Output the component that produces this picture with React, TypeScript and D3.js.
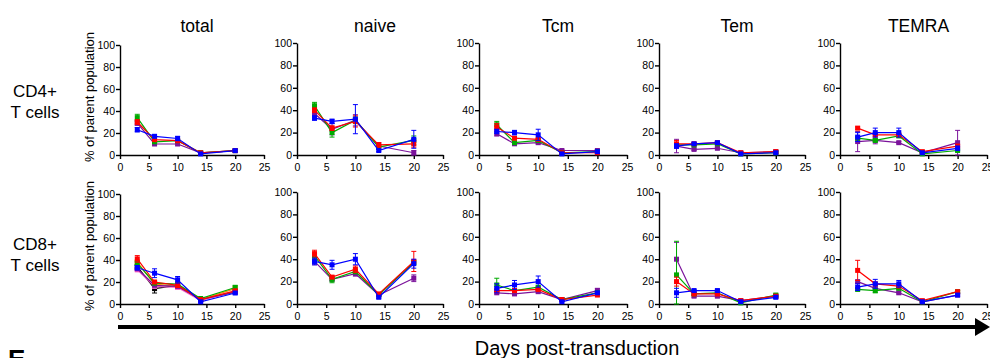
import { useEffect, useRef } from 'react';
import * as d3 from 'd3';

interface SeriesData {
  key: string;
  mean: number[];
  sd: number[];
}

// time points (days post-transduction)
const days = [3, 6, 10, 14, 20];
const xTicks = [0, 5, 10, 15, 20, 25];
const yTicks = [0, 20, 40, 60, 80, 100];
const subsets = ['total', 'naive', 'Tcm', 'Tem', 'TEMRA'];
const rowLabels = [
  ['CD4+', 'T cells'],
  ['CD8+', 'T cells'],
];

const seriesColors: Record<string, string> = {
  black: '#000000',
  orange: '#ff8a00',
  pink: '#ff66cc',
  purple: '#7b139b',
  green: '#00aa00',
  red: '#ff0000',
  blue: '#0000ff',
};

// CD4+ T cells
const cd4Total: SeriesData[] = [
  { key: 'purple', mean: [29, 10, 10, 2, 4], sd: [2, 1, 1, 1, 1] },
  { key: 'green', mean: [34, 12, 13, 2, 4], sd: [3, 1, 1, 1, 1] },
  { key: 'red', mean: [30, 14, 13, 2, 4], sd: [2, 1, 1, 1, 1] },
  { key: 'blue', mean: [23, 17, 15, 1, 4], sd: [2, 1, 2, 1, 1] },
];
const cd4Naive: SeriesData[] = [
  { key: 'purple', mean: [37, 23, 31, 8, 2], sd: [2, 5, 5, 3, 2] },
  { key: 'green', mean: [44, 20, 31, 7, 13], sd: [3, 4, 3, 2, 4] },
  { key: 'red', mean: [40, 24, 30, 9, 10], sd: [2, 2, 5, 2, 3] },
  { key: 'blue', mean: [33, 30, 32, 4, 14], sd: [2, 2, 13, 1, 8] },
];
const cd4Tcm: SeriesData[] = [
  { key: 'purple', mean: [19, 10, 11, 4, 4], sd: [2, 1, 1, 1, 1] },
  { key: 'green', mean: [27, 11, 13, 2, 3], sd: [3, 1, 1, 1, 1] },
  { key: 'red', mean: [25, 15, 14, 2, 2], sd: [3, 1, 1, 1, 1] },
  { key: 'blue', mean: [21, 20, 18, 1, 3], sd: [2, 2, 5, 1, 1] },
];
const cd4Tem: SeriesData[] = [
  { key: 'purple', mean: [8, 5, 6, 2, 3], sd: [6, 1, 1, 1, 1] },
  { key: 'green', mean: [9, 9, 10, 1, 2], sd: [1, 1, 1, 1, 1] },
  { key: 'red', mean: [10, 10, 11, 2, 3], sd: [3, 1, 1, 1, 1] },
  { key: 'blue', mean: [8, 10, 11, 1, 2], sd: [2, 1, 1, 1, 1] },
];
const cd4Temra: SeriesData[] = [
  { key: 'purple', mean: [12, 13, 11, 2, 11], sd: [9, 3, 1, 1, 11] },
  { key: 'green', mean: [15, 13, 17, 1, 4], sd: [1, 1, 1, 1, 1] },
  { key: 'red', mean: [24, 18, 18, 3, 8], sd: [1, 1, 1, 1, 1] },
  { key: 'blue', mean: [16, 20, 20, 2, 6], sd: [4, 4, 4, 1, 2] },
];

// CD8+ T cells
const cd8Total: SeriesData[] = [
  { key: 'black', mean: [34, 14, 17, 4, 11], sd: [2, 4, 1, 1, 1] },
  { key: 'orange', mean: [38, 18, 16, 4, 14], sd: [2, 1, 2, 1, 2] },
  { key: 'pink', mean: [31, 16, 15, 3, 12], sd: [1, 1, 1, 1, 1] },
  { key: 'purple', mean: [32, 17, 16, 4, 11], sd: [1, 1, 1, 1, 1] },
  { key: 'green', mean: [37, 19, 18, 5, 15], sd: [2, 1, 1, 1, 2] },
  { key: 'red', mean: [41, 20, 17, 4, 12], sd: [3, 1, 2, 1, 1] },
  { key: 'blue', mean: [33, 28, 22, 2, 10], sd: [2, 4, 3, 1, 1] },
];
const cd8Naive: SeriesData[] = [
  { key: 'purple', mean: [38, 22, 27, 8, 23], sd: [3, 1, 2, 1, 3] },
  { key: 'green', mean: [43, 22, 29, 8, 37], sd: [2, 3, 2, 1, 2] },
  { key: 'red', mean: [45, 24, 31, 9, 38], sd: [3, 1, 3, 1, 9] },
  { key: 'blue', mean: [38, 35, 40, 6, 36], sd: [3, 4, 5, 1, 4] },
];
const cd8Tcm: SeriesData[] = [
  { key: 'purple', mean: [10, 9, 11, 4, 12], sd: [1, 1, 1, 1, 2] },
  { key: 'green', mean: [17, 12, 15, 4, 10], sd: [6, 1, 1, 1, 1] },
  { key: 'red', mean: [12, 12, 13, 4, 8], sd: [1, 1, 1, 1, 1] },
  { key: 'blue', mean: [14, 17, 20, 2, 10], sd: [4, 4, 5, 1, 1] },
];
const cd8Tem: SeriesData[] = [
  { key: 'purple', mean: [40, 7, 7, 3, 7], sd: [15, 1, 1, 1, 1] },
  { key: 'green', mean: [26, 9, 10, 1, 8], sd: [30, 1, 1, 1, 1] },
  { key: 'red', mean: [20, 9, 9, 3, 7], sd: [4, 1, 1, 1, 1] },
  { key: 'blue', mean: [10, 12, 12, 2, 6], sd: [4, 1, 1, 1, 1] },
];
const cd8Temra: SeriesData[] = [
  { key: 'purple', mean: [20, 14, 10, 2, 8], sd: [1, 1, 1, 1, 1] },
  { key: 'green', mean: [13, 12, 14, 2, 11], sd: [1, 2, 1, 1, 1] },
  { key: 'red', mean: [30, 18, 16, 3, 11], sd: [9, 1, 1, 1, 1] },
  { key: 'blue', mean: [15, 18, 18, 2, 8], sd: [3, 4, 3, 1, 1] },
];

const panels = [
  [cd4Total, cd4Naive, cd4Tcm, cd4Tem, cd4Temra],
  [cd8Total, cd8Naive, cd8Tcm, cd8Tem, cd8Temra],
];

const FONT = "Arial, 'Liberation Sans', sans-serif";

export default function App() {
  const svgRef = useRef<SVGSVGElement>(null);
  const width = 990;
  const height = 358;

  useEffect(() => {
    if (!svgRef.current) return;
    const svg = d3.select(svgRef.current);
    svg.selectAll('*').remove();

    // pixel extents of each panel
    const colX = [
      [120, 264],
      [297, 443],
      [479, 627],
      [659, 805],
      [840, 987],
    ];
    const rowY = [
      [43, 155],
      [192, 304],
    ];
    const colShift = [2, 0, 0, 0, 0];

    panels.forEach((rowPanels, ri) => {
      rowPanels.forEach((series, ci) => {
        const x = d3.scaleLinear().domain([0, 25]).range(colX[ci]);
        const y = d3
          .scaleLinear()
          .domain([0, 100])
          .range([rowY[ri][1], rowY[ri][0] + colShift[ci]]);

        const g = svg.append('g');

        // axes
        const xAxis = g
          .append('g')
          .attr('transform', `translate(0,${rowY[ri][1]})`)
          .call(d3.axisBottom(x).tickValues(xTicks).tickSize(4).tickSizeOuter(0));
        const yAxis = g
          .append('g')
          .attr('transform', `translate(${colX[ci][0]},0)`)
          .call(d3.axisLeft(y).tickValues(yTicks).tickSize(4).tickSizeOuter(0).tickPadding(1));

        [xAxis, yAxis].forEach((ax) => {
          ax.selectAll('.domain, .tick line').attr('stroke', '#000').attr('stroke-width', 1.4);
          ax.selectAll('text')
            .attr('fill', '#000')
            .attr('font-family', FONT)
            .attr('font-size', '10.5px');
        });
        xAxis.selectAll('text').attr('dy', '0.85em');

        // series
        series.forEach((s) => {
          const color = seriesColors[s.key];
          const pts = days.map((d, i) => ({ d, m: s.mean[i], e: s.sd[i] }));

          const line = d3
            .line<{ d: number; m: number }>()
            .x((p) => x(p.d))
            .y((p) => y(p.m));

          g.append('path')
            .datum(pts)
            .attr('d', line)
            .attr('fill', 'none')
            .attr('stroke', color)
            .attr('stroke-width', 1.2);

          // error bars
          const eb = g.append('g').attr('stroke', color).attr('stroke-width', 1);
          pts.forEach((p) => {
            const lo = y(Math.max(0, p.m - p.e));
            const hi = y(p.m + p.e);
            const cx = x(p.d);
            eb.append('line').attr('x1', cx).attr('x2', cx).attr('y1', lo).attr('y2', hi);
            eb.append('line').attr('x1', cx - 2.5).attr('x2', cx + 2.5).attr('y1', hi).attr('y2', hi);
            eb.append('line').attr('x1', cx - 2.5).attr('x2', cx + 2.5).attr('y1', lo).attr('y2', lo);
          });

          g.append('g')
            .selectAll('rect')
            .data(pts)
            .enter()
            .append('rect')
            .attr('x', (p) => x(p.d) - 2.5)
            .attr('y', (p) => y(p.m) - 2.5)
            .attr('width', 5)
            .attr('height', 5)
            .attr('fill', color);
        });

        // subset titles
        if (ri === 0) {
          svg
            .append('text')
            .attr('x', (colX[ci][0] + colX[ci][1]) / 2 + 5)
            .attr('y', 32)
            .attr('text-anchor', 'middle')
            .attr('font-family', FONT)
            .attr('font-size', '17.5px')
            .attr('fill', '#000')
            .text(subsets[ci]);
        }

        // y axis title
        if (ci === 0) {
          const cy = (rowY[ri][0] + rowY[ri][1]) / 2 - 2;
          svg
            .append('text')
            .attr('transform', `translate(94,${cy}) rotate(-90)`)
            .attr('text-anchor', 'middle')
            .attr('font-family', FONT)
            .attr('font-size', '13px')
            .attr('fill', '#000')
            .text('% of parent population');
        }
      });

      // row labels
      const rowText = svg
        .append('text')
        .attr('x', 35)
        .attr('y', ri === 0 ? 97 : 250)
        .attr('text-anchor', 'middle')
        .attr('font-family', FONT)
        .attr('font-size', '17px')
        .attr('fill', '#000');
      rowLabels[ri].forEach((t, i) => {
        rowText
          .append('tspan')
          .attr('x', 35)
          .attr('dy', i === 0 ? 0 : 21)
          .text(t);
      });
    });

    // time arrow
    svg
      .append('line')
      .attr('x1', 118)
      .attr('x2', 978)
      .attr('y1', 327)
      .attr('y2', 327)
      .attr('stroke', '#000')
      .attr('stroke-width', 4);
    svg
      .append('path')
      .attr('d', 'M975,318 L990,327 L975,336 Z')
      .attr('fill', '#000');

    svg
      .append('text')
      .attr('x', 577)
      .attr('y', 355)
      .attr('text-anchor', 'middle')
      .attr('font-family', FONT)
      .attr('font-size', '20px')
      .attr('fill', '#000')
      .text('Days post-transduction');

    svg
      .append('text')
      .attr('x', 8)
      .attr('y', 368)
      .attr('font-family', FONT)
      .attr('font-size', '26px')
      .attr('font-weight', 'bold')
      .attr('fill', '#000')
      .text('E');
  }, []);

  return (
    <svg
      ref={svgRef}
      width={width}
      height={height}
      viewBox={`0 0 ${width} ${height}`}
      style={{ position: 'absolute', left: 0, top: 0, background: '#fff' }}
    />
  );
}
